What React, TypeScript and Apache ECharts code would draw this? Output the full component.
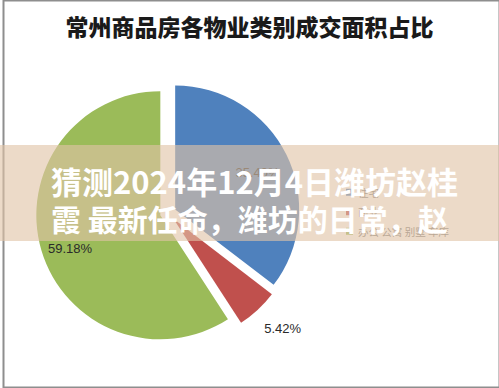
import React, { useEffect, useRef } from "react";
import * as echarts from "echarts";

const titleText = "常州商品房各物业类别成交面积占比";
const categories = ["住宅", "商业", "办公 公寓 别墅 车库"];
const shares = [35.4, 5.42, 59.18];
const shareLabels = ["35.40%", "5.42%", "59.18%"];
const sliceColors = ["#4f81bd", "#c0504d", "#9bbb59"];
const overlayLines = ["猜测2024年12月4日潍坊赵桂", "霞 最新任命，潍坊的日常，赵"];

const labelShift = [
  { dx: 24, dy: -8 },
  { dx: 65, dy: 62 },
  { dx: -28, dy: 15 },
];

export default function App() {
  const ref = useRef<HTMLDivElement>(null);
  useEffect(() => {
    if (!ref.current) return;
    const chart = echarts.init(ref.current, undefined, { renderer: "svg" });
    chart.setOption({
      animation: false,
      backgroundColor: "#ffffff",
      title: {
        text: titleText,
        left: "center",
        top: 9,
        textStyle: {
          fontFamily: "Noto Sans CJK SC",
          fontWeight: 900,
          fontSize: 23,
          color: "#1a1a1a",
        },
      },
      legend: {
        orient: "vertical",
        left: 341,
        top: 182,
        itemWidth: 7,
        itemHeight: 7,
        itemGap: 9,
        icon: "rect",
        selectedMode: false,
        textStyle: { fontFamily: "Noto Sans CJK SC", fontSize: 10.5, color: "#777" },
        data: categories,
      },
      series: [
        {
          type: "pie",
          center: [168, 213],
          radius: 124,
          startAngle: 90,
          clockwise: true,
          selectedMode: "multiple",
          selectedOffset: 8,
          emphasis: { disabled: true },
          avoidLabelOverlap: false,
          itemStyle: { borderWidth: 0 },
          label: {
            show: true,
            position: "inside",
            fontFamily: "Liberation Sans",
            fontSize: 13,
            color: "#2a2a2a",
            formatter: (p: any) => shareLabels[p.dataIndex],
          },
          labelLine: { show: false },
          labelLayout: (p: any) => labelShift[p.dataIndex],
          data: categories.map((name, i) => ({
            name,
            value: shares[i],
            selected: true,
            itemStyle: { color: sliceColors[i] },
          })),
        },
      ],
      graphic: [
        {
          type: "rect",
          left: 1,
          top: -2,
          shape: { width: 496, height: 387 },
          style: { fill: "none", stroke: "#8e8e8e", lineWidth: 2 },
          z: 100,
        },
        {
          type: "rect",
          shape: { x: 0, y: 145, width: 499, height: 96 },
          style: { fill: "rgba(224,196,166,0.62)" },
          z: 101,
        },
        {
          type: "text",
          x: 51,
          y: 180,
          style: {
            text: overlayLines[0],
            fill: "#ffffff",
            font: "bold 31px 'Noto Sans CJK SC'",
            verticalAlign: "middle",
          },
          z: 102,
        },
        {
          type: "text",
          x: 51,
          y: 218,
          style: {
            text: overlayLines[1],
            fill: "#ffffff",
            font: "bold 30px 'Noto Sans CJK SC'",
            verticalAlign: "middle",
          },
          z: 102,
        },
      ],
    });
    return () => chart.dispose();
  }, []);
  return (
    <div
      ref={ref}
      style={{ position: "fixed", left: 0, top: 0, width: 499, height: 388 }}
    />
  );
}
